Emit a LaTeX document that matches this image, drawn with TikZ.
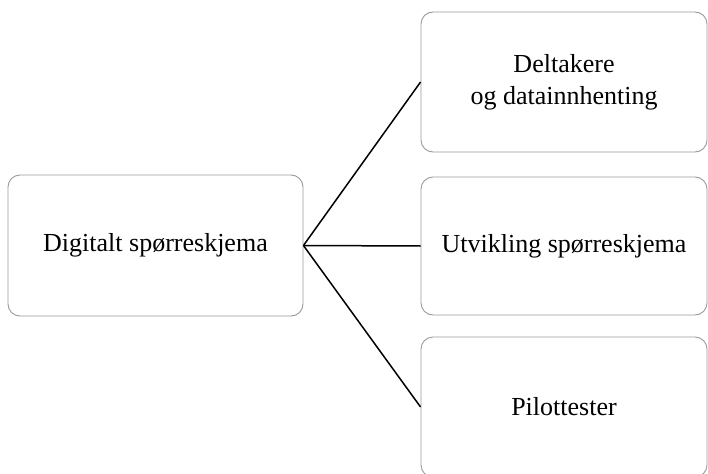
\documentclass[tikz,border=0pt]{standalone}
\usepackage{fontspec}
\setmainfont{Liberation Serif}
\definecolor{BoxGray}{HTML}{9A9A9A}

\begin{document}
\begin{tikzpicture}[
        x=1pt, y=-1pt,
        box/.style={draw=BoxGray, line width=0.9pt, fill=white, rounded corners=12pt,
          minimum width=286pt, minimum height=140pt, align=center,
          font=\fontsize{26}{32}\selectfont},
        link/.style={black, line width=1.5pt}
      ]
        \useasboundingbox (0,0) rectangle (708,473);
        \clip (0,0) rectangle (708,473);
        \node[box, minimum width=295pt, minimum height=141pt] (survey) at (155.5,245.5) {Digitalt spørreskjema};
        \node[box] (participants) at (564,82) {Deltakere\\og datainnhenting};
        \node[box, minimum height=138pt] (development) at (564,246) {Utvikling spørreskjema};
        \node[box] (pilot) at (564,407) {Pilottester};
        \draw[link] (survey.east) -- (participants.west);
        \draw[link] (survey.east) -- (development.west);
        \draw[link] (survey.east) -- (pilot.west);
      \end{tikzpicture}
\end{document}
